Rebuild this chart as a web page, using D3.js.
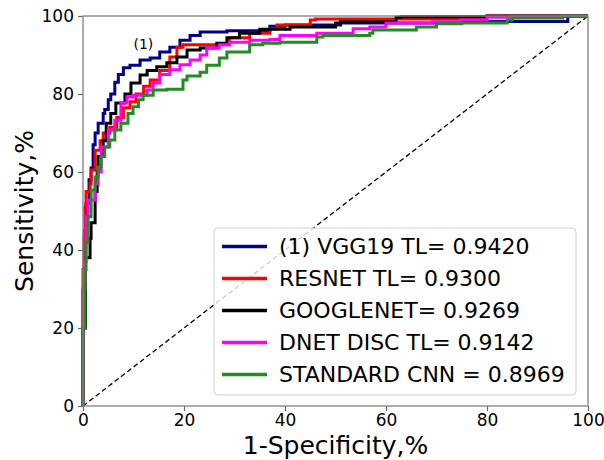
<!DOCTYPE html>
<html>
  <body style="margin:0">
    <style>
      svg { font-family: "DejaVu Sans", sans-serif; }
    </style>
    <script src="https://d3js.org/d3.v7.min.js"></script>
    <script type="text/javascript">

      const width = 604;
      const height = 460;
      const plotLeft = 83, plotRight = 588, plotTop = 16, plotBottom = 406;

      const ticks = [0, 20, 40, 60, 80, 100];

      const labels = ['(1) VGG19 TL= 0.9420', 'RESNET TL= 0.9300', 'GOOGLENET= 0.9269',
        'DNET DISC TL= 0.9142', 'STANDARD CNN = 0.8969'];
      const colors = ['#00008b', '#ff0000', '#000000', '#ff00ff', '#228b22'];

      // [1-specificity %, sensitivity %]
      const vgg = [[0,0],[0.3,30],[0.6,45],[1.2,52],[1.6,58],[2,61],[2.4,67],[3,70],[4,72.5],[4.3,75],[5,76],
        [5.5,78.5],[6.3,80],[7,83],[8,85],[9.3,86.7],[11.3,87.4],[13.3,88.7],[15.2,89.2],[17.2,90.8],[19.2,92],
        [21.2,93.8],[23.2,95],[28.5,95.9],[37,96.2],[40,97.4],[51,97.7],[75,98.2],[96,98.6],[97,100],[100,100]];
      const resnet = [[0,0],[0.2,35],[0.4,44],[0.6,51],[1.4,55],[1.6,57],[2.4,60.5],[3.4,65.6],[4,68],[5.3,70],
        [6.7,71.5],[8,74],[9.3,76.5],[10.5,78],[12,80],[13.3,82],[15.2,83.6],[17.2,86],[18.6,89.5],[19.8,92],
        [29,92.6],[33,94.4],[37,95.6],[38.4,96.7],[45,97.7],[46,99],[80,99.2],[85,100],[100,100]];
      const googlenet = [[0,0],[0.5,20],[1.4,38],[1.6,43],[2.4,47],[2.8,55],[3,60],[4,64],[4.6,68],[5.5,72.5],
        [6.5,75],[8.3,77.7],[9.5,80],[11.3,82.8],[12.7,84.9],[14.6,86],[16.6,87],[18.6,88],[20.6,89.5],
        [23.2,91.3],[26.5,91.8],[28.5,93],[31,94.4],[35,95.6],[41,96.6],[50,97.2],[51,98.2],[62,98.5],
        [63,99.7],[80,99.8],[82,100],[100,100]];
      const dnet = [[0,0],[0.2,20],[0.4,30],[0.6,37],[1,48.5],[2.4,52.8],[3,57],[3.6,60],[5,66.4],[6.3,70.7],
        [7.5,73.3],[8.7,77.7],[9.9,79.2],[12.7,79.7],[13.9,81],[15.2,82.8],[17.2,85],[19.2,86.2],[21.2,87.5],
        [23.2,88.7],[24.5,90],[27,91.8],[29,92.6],[33,93.3],[37,93.8],[39,94],[46.3,95],[53.5,95.6],
        [56.8,96.7],[60,97.2],[69.3,98.2],[74.7,98.5],[80,99],[85,99.7],[95,99.8],[96,100],[100,100]];
      const standard = [[0,0],[0.4,20],[0.6,35],[1,42],[1.6,48.5],[2.4,55.4],[3,58.7],[3.6,61.3],[4.3,64],
        [5.3,66.4],[6.3,68.2],[7.5,70.8],[8.9,72.5],[9.9,75],[11,76.7],[11.9,78.5],[13.9,79.7],[16.6,81],
        [19.8,81.2],[20.6,83.6],[23.2,84.6],[24.5,85.6],[27,87.4],[28.5,89.2],[33,90.8],[35.6,92.6],[39,93],
        [46.3,93.3],[47.5,94.6],[56.8,95],[57.4,95.6],[66,96.4],[70,97.2],[75,98],[84,98.2],[85,99],
        [95,99.5],[97,100],[100,100]];

      const series = [vgg, resnet, googlenet, dnet, standard];

      const svg = d3.select('body')
        .append('svg')
        .attr('width', width)
        .attr('height', height);

      const xScale = d3.scaleLinear().domain([0, 100]).range([plotLeft, plotRight]);
      const yScale = d3.scaleLinear().domain([0, 100]).range([plotBottom, plotTop]);

      // chance line
      svg.append('line')
        .attr('x1', xScale(0)).attr('y1', yScale(0))
        .attr('x2', xScale(100)).attr('y2', yScale(100))
        .attr('stroke', '#000')
        .attr('stroke-width', 1.3)
        .attr('stroke-dasharray', '5,3');

      const line = d3.line()
        .x((d) => xScale(d[0]))
        .y((d) => yScale(d[1]))
        .curve(d3.curveStepBefore);

      svg.selectAll('.roc')
        .data(series)
        .enter()
        .append('path')
        .attr('class', 'roc')
        .attr('d', line)
        .attr('fill', 'none')
        .attr('stroke', (d, i) => colors[i])
        .attr('stroke-width', 3);

      const axisBottom = d3.axisBottom(xScale).tickValues(ticks).tickSize(5).tickPadding(3);
      const gx = svg.append('g')
        .attr('transform', `translate(0, ${plotBottom})`)
        .call(axisBottom);
      const axisLeft = d3.axisLeft(yScale).tickValues(ticks).tickSize(5).tickPadding(4);
      const gy = svg.append('g')
        .attr('transform', `translate(${plotLeft}, 0)`)
        .call(axisLeft);

      [gx, gy].forEach((g) => {
        g.select('.domain').remove();
        g.selectAll('line').attr('stroke', '#666').attr('stroke-width', 1.2);
        g.selectAll('text')
          .attr('fill', '#000')
          .style('font-size', '17px')
          .style('font-family', '"DejaVu Sans", sans-serif');
      });

      // frame
      svg.append('rect')
        .attr('x', plotLeft).attr('y', plotTop)
        .attr('width', plotRight - plotLeft).attr('height', plotBottom - plotTop)
        .attr('fill', 'none')
        .attr('stroke', '#808080')
        .attr('stroke-width', 1.3);

      svg.append('text')
        .attr('x', xScale(10))
        .attr('y', yScale(91.5))
        .style('font-size', '14px')
        .text('(1)');

      svg.append('text')
        .attr('x', (plotLeft + plotRight) / 2)
        .attr('y', 454)
        .attr('text-anchor', 'middle')
        .style('font-size', '25px')
        .text('1-Specificity,%');

      svg.append('text')
        .attr('transform', `translate(33, ${(plotTop + plotBottom) / 2}) rotate(-90)`)
        .attr('text-anchor', 'middle')
        .style('font-size', '25px')
        .text('Sensitivity,%');

      // legend
      const legend = svg.append('g');
      legend.append('rect')
        .attr('x', 214).attr('y', 228)
        .attr('width', 362).attr('height', 167)
        .attr('rx', 4)
        .attr('fill', 'rgba(255,255,255,0.8)')
        .attr('stroke', '#d0d0d0');

      const items = legend.selectAll('.item')
        .data(labels)
        .enter()
        .append('g')
        .attr('class', 'item')
        .attr('transform', (d, i) => `translate(222, ${246.5 + i * 32})`);
      items.append('line')
        .attr('x1', 0).attr('x2', 45)
        .attr('stroke', (d, i) => colors[i])
        .attr('stroke-width', 3.5);
      items.append('text')
        .attr('x', 57)
        .attr('dy', '0.36em')
        .style('font-size', '22px')
        .text((d) => d);

    </script>
  </body>
</html>
